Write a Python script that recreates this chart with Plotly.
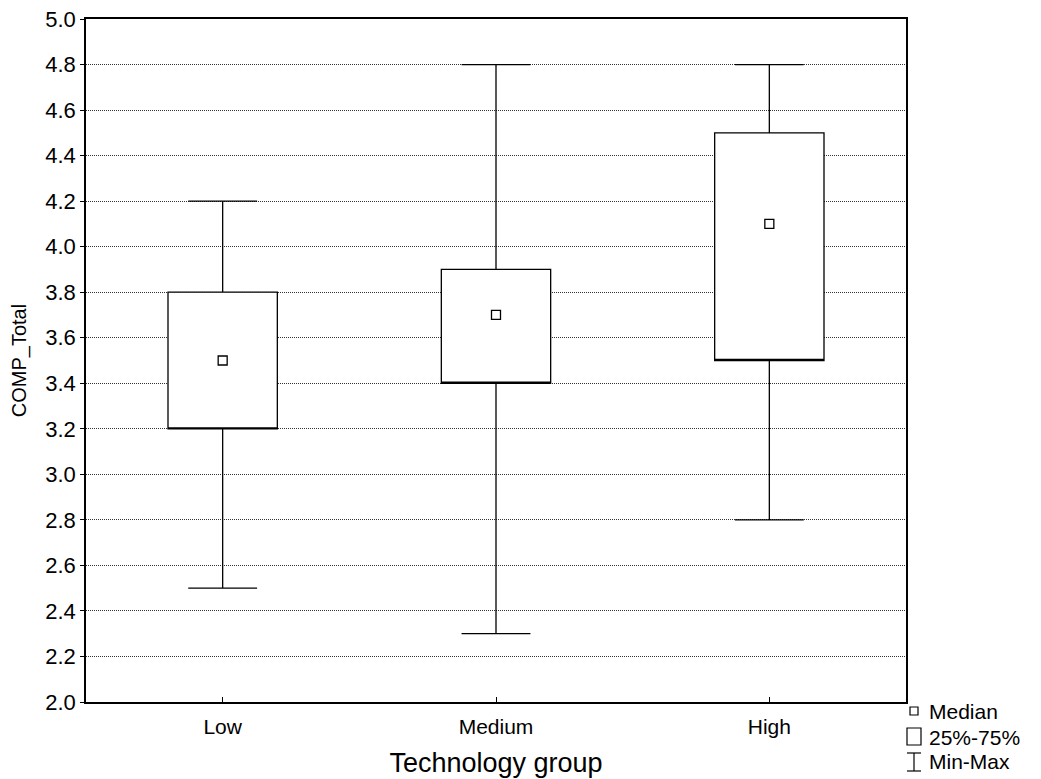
import plotly.graph_objects as go

categories = ["Low", "Medium", "High"]
q1 = [3.2, 3.4, 3.5]
q3 = [3.8, 3.9, 4.5]
medians = [3.5, 3.7, 4.1]
mins = [2.5, 2.3, 2.8]
maxs = [4.2, 4.8, 4.8]
y_ticks = [2.0, 2.2, 2.4, 2.6, 2.8, 3.0, 3.2, 3.4, 3.6, 3.8, 4.0, 4.2, 4.4, 4.6, 4.8, 5.0]
legend_labels = ["Median", "25%-75%", "Min-Max"]

W, H = 1041, 779
OFF = 8  # page body margin offset
L, T = 86 - OFF, 19 - OFF
R = W - (906 - OFF)
B = H - (702 - OFF)
pw, ph = W - L - R, H - T - B

def px(x):
    return (x - OFF - L) / pw

def py(y):
    return (H - B - (y - OFF)) / ph

FONT = "Liberation Sans, Arial, sans-serif"

fig = go.Figure()
fig.add_trace(go.Box(
    x=categories, q1=q1, median=q1, q3=q3,
    lowerfence=mins, upperfence=maxs,
    fillcolor="white", line=dict(color="black", width=1.3),
    whiskerwidth=0.63, width=0.4, boxpoints=False, showlegend=False,
    hoverinfo="skip",
))
fig.add_trace(go.Scatter(
    x=categories, y=medians, mode="markers",
    marker=dict(symbol="square", size=9, color="white",
                line=dict(color="black", width=1.3)),
    showlegend=False,
))

shapes = [
    dict(type="rect", xref="paper", yref="paper", x0=px(910), x1=px(918), y0=py(707), y1=py(715),
         line=dict(color="black", width=1.2), fillcolor="white"),
    dict(type="rect", xref="paper", yref="paper", x0=px(907), x1=px(921), y0=py(728), y1=py(745),
         line=dict(color="black", width=1.2), fillcolor="white"),
    dict(type="line", xref="paper", yref="paper", x0=px(907), x1=px(921), y0=py(753), y1=py(753),
         line=dict(color="black", width=1.2)),
    dict(type="line", xref="paper", yref="paper", x0=px(907), x1=px(921), y0=py(771), y1=py(771),
         line=dict(color="black", width=1.2)),
    dict(type="line", xref="paper", yref="paper", x0=px(914), x1=px(914), y0=py(753), y1=py(771),
         line=dict(color="black", width=1.2)),
]
annotations = []
for lab, yy in zip(legend_labels, [711, 737, 762]):
    annotations.append(dict(text=lab, xref="paper", yref="paper", x=px(927), y=py(yy),
                            xanchor="left", yanchor="middle", showarrow=False,
                            font=dict(family=FONT, size=21, color="black")))

fig.update_layout(
    width=W, height=H,
    margin=dict(l=L, r=R, t=T, b=B),
    paper_bgcolor="white", plot_bgcolor="white",
    font=dict(family=FONT, size=21, color="black"),
    shapes=shapes, annotations=annotations,
    xaxis=dict(
        title=dict(text="Technology group", font=dict(size=27), standoff=16),
        range=[-0.5, 2.5],
        showline=True, linecolor="black", linewidth=1.5, mirror=True,
        ticks="inside", ticklen=5, tickcolor="black", ticklabelstandoff=5,
        showgrid=False, zeroline=False, automargin=False,
    ),
    yaxis=dict(
        title=dict(text="COMP_Total", font=dict(size=20), standoff=14),
        range=[2.0, 5.0], tickvals=y_ticks, ticktext=[f"{v:.1f}" for v in y_ticks],
        tickfont=dict(size=22), ticklabeloverflow="allow",
        showline=True, linecolor="black", linewidth=1.5, mirror=True,
        ticks="outside", ticklen=4, tickcolor="black",
        showgrid=True, gridcolor="#333333", griddash="1px,1px", gridwidth=1,
        zeroline=False, automargin=False,
    ),
)

fig.write_html("out.html")
